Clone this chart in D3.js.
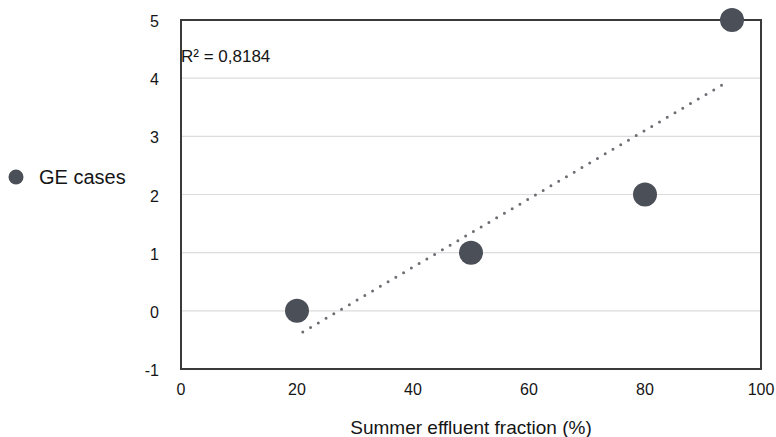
<!DOCTYPE html>
<html>
<head>
<meta charset="utf-8">
<script src="https://cdn.jsdelivr.net/npm/d3@7"></script>
<style>
  body { margin: 0; background: white; }
  text { font-family: "Liberation Sans", Arial, Helvetica, sans-serif; fill: #151515; }
</style>
</head>
<body>
<div id="chart"></div>
<script>
// data
var effluent = [20, 50, 80, 95];
var ge_cases = [0, 1, 2, 5];
var x_ticks = [0, 20, 40, 60, 80, 100];
var y_ticks = [-1, 0, 1, 2, 3, 4, 5];
var series_name = 'GE cases';

var width = 776, height = 437;
var margin = {left: 181, right: 15, top: 20, bottom: 68};

var svg = d3.select('#chart')
  .append('svg')
  .attr('width', width)
  .attr('height', height);

var x = d3.scaleLinear().domain([0, 100]).range([margin.left, width - margin.right]);
var y = d3.scaleLinear().domain([-1, 5]).range([height - margin.bottom, margin.top]);

// horizontal grid lines
svg.append('g')
  .selectAll('line')
  .data(y_ticks)
  .enter()
  .append('line')
  .attr('x1', x(0))
  .attr('x2', x(100))
  .attr('y1', function(d){ return y(d); })
  .attr('y2', function(d){ return y(d); })
  .style('stroke', '#dcdcdc')
  .style('stroke-width', 1.2);

// frame
svg.append('rect')
  .attr('x', x(0))
  .attr('y', y(5))
  .attr('width', x(100) - x(0))
  .attr('height', y(-1) - y(5))
  .style('fill', 'none')
  .style('stroke', '#3a3a3a')
  .style('stroke-width', 2);

// y tick labels
svg.append('g')
  .selectAll('text')
  .data(y_ticks)
  .enter()
  .append('text')
  .attr('x', 159)
  .attr('y', function(d){ return y(d) + 7; })
  .style('text-anchor', 'end')
  .style('font-size', '16px')
  .text(function(d){ return d; });

// x tick labels
svg.append('g')
  .selectAll('text')
  .data(x_ticks)
  .enter()
  .append('text')
  .attr('x', function(d){ return x(d); })
  .attr('y', 395)
  .style('text-anchor', 'middle')
  .style('font-size', '16px')
  .text(function(d){ return d; });

// axis title
svg.append('text')
  .attr('x', 471)
  .attr('y', 434)
  .style('text-anchor', 'middle')
  .style('font-size', '19px')
  .text('Summer effluent fraction (%)');

// linear trend line (least squares)
var n = effluent.length;
var mx = d3.mean(effluent), my = d3.mean(ge_cases);
var sxy = 0, sxx = 0, syy = 0;
for (var i = 0; i < n; i++) {
  sxy += (effluent[i] - mx) * (ge_cases[i] - my);
  sxx += (effluent[i] - mx) * (effluent[i] - mx);
  syy += (ge_cases[i] - my) * (ge_cases[i] - my);
}
var slope = sxy / sxx;
var intercept = my - slope * mx;
var r2 = (sxy * sxy) / (sxx * syy);
var trend_x = [21, 94];

svg.append('line')
  .attr('x1', x(trend_x[0]))
  .attr('y1', y(intercept + slope * trend_x[0]))
  .attr('x2', x(trend_x[1]))
  .attr('y2', y(intercept + slope * trend_x[1]))
  .style('stroke', '#6b6e73')
  .style('stroke-width', 3)
  .style('stroke-linecap', 'round')
  .style('stroke-dasharray', '0 9');

svg.append('text')
  .attr('x', x(0))
  .attr('y', 61.5)
  .style('font-size', '17px')
  .text('R² = ' + r2.toFixed(4).replace('.', ','));

// points
svg.append('g')
  .selectAll('circle')
  .data(effluent)
  .enter()
  .append('circle')
  .attr('cx', function(d){ return x(d); })
  .attr('cy', function(d, i){ return y(ge_cases[i]); })
  .attr('r', 12)
  .style('fill', '#4b5058');

// legend
svg.append('circle')
  .attr('cx', 16)
  .attr('cy', 177)
  .attr('r', 7.5)
  .style('fill', '#4b5058');

svg.append('text')
  .attr('x', 39)
  .attr('y', 184)
  .style('font-size', '20px')
  .text(series_name);
</script>
</body>
</html>
